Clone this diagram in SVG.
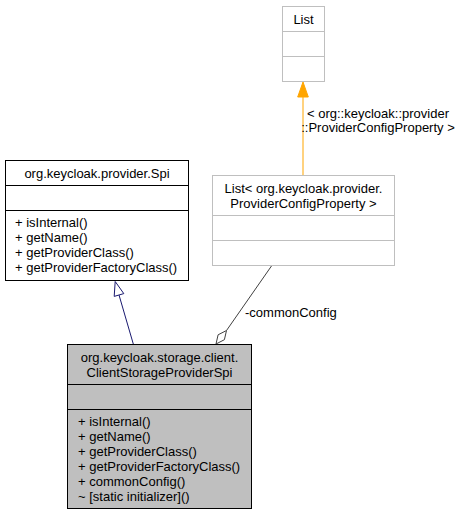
<svg xmlns="http://www.w3.org/2000/svg" width="461" height="515" viewBox="0 0 461 515">
<style>
text{font-family:"Liberation Sans",Arial,sans-serif;font-size:13px;fill:#000}
.c{text-anchor:middle}
.box{fill:#fff;stroke:#000;stroke-width:1}
.ext{fill:#fff;stroke:#bfbfbf;stroke-width:1}
.main{fill:#bfbfbf;stroke:#000;stroke-width:1}
.dk{stroke:#000;stroke-width:1}
.lt{stroke:#bfbfbf;stroke-width:1}
</style>
<rect x="0" y="0" width="461" height="515" fill="#fff"/>
<g id="connectors">
  <line x1="303" y1="175" x2="303" y2="96" stroke="#ffa500" stroke-width="1"/>
  <polygon points="303,82 297.7,97 308.3,97" fill="#ffa500" stroke="#ffa500"/>
  <text class="c" x="378" y="118">&lt; org::keycloak::provider</text>
  <text class="c" x="378" y="132">::ProviderConfigProperty &gt;</text>
  <line x1="133.3" y1="344" x2="119" y2="295" stroke="#191970" stroke-width="1"/>
  <polygon points="115.2,281.5 114.2,296.4 123.8,293.6" fill="#fff" stroke="#191970"/>
  <line x1="271.7" y1="265.7" x2="226.5" y2="330.5" stroke="#404040" stroke-width="1"/>
  <polygon points="216,344 218.1,334.8 226.5,330.5 224.4,339.7" fill="#fff" stroke="#404040"/>
  <text x="245" y="317">-commonConfig</text>
</g>
<g id="node-list">
  <rect class="ext" x="282.5" y="6.5" width="42" height="75"/>
  <line class="lt" x1="282.5" y1="31.5" x2="324.5" y2="31.5"/>
  <line class="lt" x1="282.5" y1="56.5" x2="324.5" y2="56.5"/>
  <text class="c" x="303.5" y="24">List</text>
</g>
<g id="node-list-pcp">
  <rect class="ext" x="212.5" y="175.5" width="182" height="90"/>
  <line class="lt" x1="212.5" y1="215.5" x2="394.5" y2="215.5"/>
  <line class="lt" x1="212.5" y1="240.5" x2="394.5" y2="240.5"/>
  <text class="c" x="303.5" y="193">List&lt; org.keycloak.provider.</text>
  <text class="c" x="303.5" y="208">ProviderConfigProperty &gt;</text>
</g>
<g id="node-spi">
  <rect class="box" x="5.5" y="160.5" width="183" height="120"/>
  <line class="dk" x1="5.5" y1="185.5" x2="188.5" y2="185.5"/>
  <line class="dk" x1="5.5" y1="210.5" x2="188.5" y2="210.5"/>
  <text class="c" x="97" y="178">org.keycloak.provider.Spi</text>
  <text x="15" y="227">+ isInternal()</text>
  <text x="15" y="242">+ getName()</text>
  <text x="15" y="257">+ getProviderClass()</text>
  <text x="15" y="272">+ getProviderFactoryClass()</text>
</g>
<g id="node-main">
  <rect class="main" x="67.5" y="344.5" width="184" height="164"/>
  <line class="dk" x1="67.5" y1="384.5" x2="251.5" y2="384.5"/>
  <line class="dk" x1="67.5" y1="409.5" x2="251.5" y2="409.5"/>
  <text class="c" x="159.5" y="362">org.keycloak.storage.client.</text>
  <text class="c" x="159.5" y="377">ClientStorageProviderSpi</text>
  <text x="78" y="426">+ isInternal()</text>
  <text x="78" y="441">+ getName()</text>
  <text x="78" y="456">+ getProviderClass()</text>
  <text x="78" y="471">+ getProviderFactoryClass()</text>
  <text x="78" y="486">+ commonConfig()</text>
  <text x="78" y="501">~ [static initializer]()</text>
</g>
</svg>
